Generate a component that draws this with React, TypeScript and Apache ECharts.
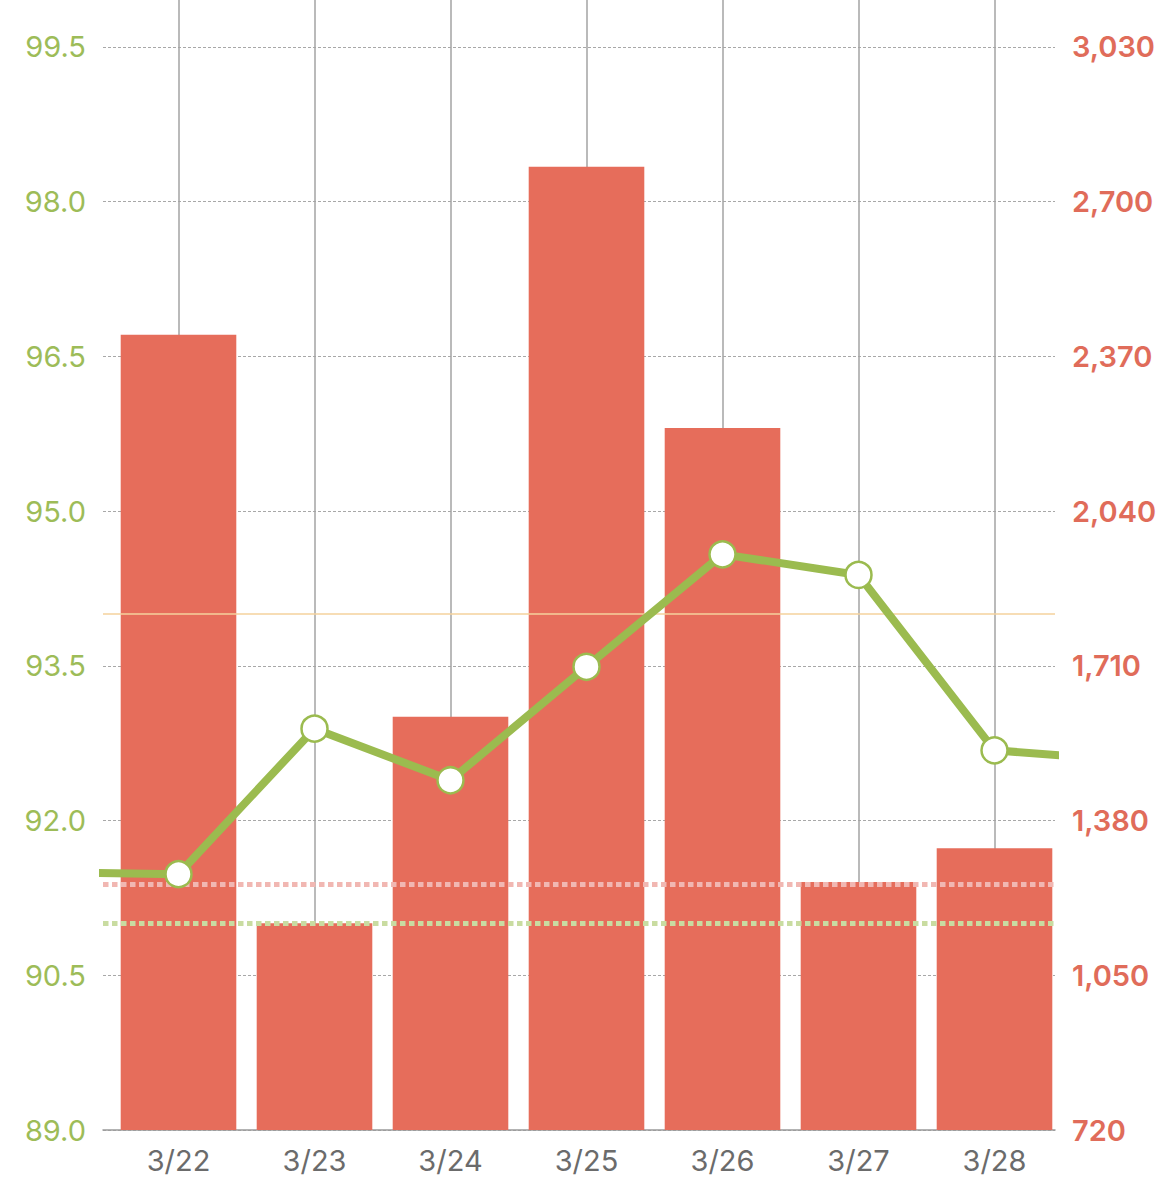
import React, { useEffect, useRef } from "react";
import * as echarts from "echarts";

const categories = ["3/22", "3/23", "3/24", "3/25", "3/26", "3/27", "3/28"];
const barValues = [2416, 1161, 1601, 2774, 2217, 1249, 1321];
const lineValues = [91.48, 92.89, 92.39, 93.49, 94.58, 94.38, 92.68];
const lineBefore = 91.5; // value for the day before (clipped at the left edge)
const lineAfter = 92.58; // value for the day after (clipped at the right edge)
const leftTicks = { min: 89, max: 101, interval: 1.5 };
const rightTicks = { min: 720, max: 3360, interval: 330 };
const pinkTarget = 1245;
const greenTarget = 91.0;
const yellowRef = 94.0;

const FONT = "Inter, 'Noto Sans', sans-serif";

// layout (pixels)
const PLOT_LEFT = 103;
const PLOT_RIGHT = 114;
const SHIFT = 7.5; // category band is scrolled slightly to the right of the plot frame
const CAT_W = 136;
const X_MIN = -(CAT_W / 2 + SHIFT) / CAT_W;
const X_MAX = X_MIN + categories.length;

export default function App() {
  const ref = useRef<HTMLDivElement>(null);
  useEffect(() => {
    document.body.style.margin = "0";
    const chart = echarts.init(ref.current!, null, { renderer: "svg" });
    const lineData: any[] = [
      { value: [-1, lineBefore], symbol: "none" },
      ...lineValues.map((v, i) => ({ value: [i, v] })),
      { value: [categories.length, lineAfter], symbol: "none" },
    ];
    const hiddenMark = { symbol: ["none", "none"], label: { show: false }, silent: true };
    chart.setOption({
      animation: false,
      backgroundColor: "#ffffff",
      grid: [
        { left: PLOT_LEFT, right: PLOT_RIGHT, top: 0, bottom: 66 },
        { left: PLOT_LEFT + SHIFT, right: PLOT_RIGHT - SHIFT, top: 0, bottom: 66 },
      ],
      xAxis: [
        {
          gridIndex: 0,
          type: "value",
          min: X_MIN,
          max: X_MAX,
          axisLine: { show: true, lineStyle: { color: "#9a9a9a", width: 1.5 } },
          axisTick: { show: false },
          axisLabel: { show: false },
          splitLine: { show: false },
        },
        {
          gridIndex: 1,
          type: "category",
          data: categories,
          boundaryGap: true,
          axisLine: { show: false },
          axisTick: { show: false },
          axisLabel: { color: "#6b6b6b", fontSize: 29, fontFamily: FONT, margin: 16 },
          splitLine: { show: false },
        },
      ],
      yAxis: [
        {
          gridIndex: 0,
          type: "value",
          position: "left",
          min: leftTicks.min,
          max: leftTicks.max,
          interval: leftTicks.interval,
          axisLine: { show: false },
          axisTick: { show: false },
          axisLabel: {
            color: "#9dbc58",
            fontSize: 29,
            fontFamily: FONT,
            margin: 17,
            showMaxLabel: false,
            formatter: (v: number) => v.toFixed(1),
          },
          splitLine: { show: true, lineStyle: { color: "#a8a8a8", width: 1.2, type: [3, 2] } },
        },
        {
          gridIndex: 0,
          type: "value",
          position: "right",
          min: rightTicks.min,
          max: rightTicks.max,
          interval: rightTicks.interval,
          axisLine: { show: false },
          axisTick: { show: false },
          axisLabel: {
            color: "#e06c5a",
            fontSize: 29,
            fontWeight: 600,
            fontFamily: FONT,
            margin: 17,
            showMaxLabel: false,
            formatter: (v: number) => v.toLocaleString("en-US"),
          },
          splitLine: { show: false },
        },
        {
          gridIndex: 1,
          type: "value",
          min: rightTicks.min,
          max: rightTicks.max,
          interval: rightTicks.interval,
          show: false,
        },
      ],
      series: [
        {
          type: "bar",
          xAxisIndex: 1,
          yAxisIndex: 2,
          data: barValues,
          barCategoryGap: "15%",
          itemStyle: { color: "#e66d5b" },
          z: 2,
          markLine: {
            ...hiddenMark,
            z: 1,
            lineStyle: { color: "#a3a3a3", width: 1.5, type: "solid" },
            data: categories.map((c) => ({ xAxis: c })),
          },
        },
        {
          type: "line",
          xAxisIndex: 0,
          yAxisIndex: 1,
          data: [],
          markLine: {
            ...hiddenMark,
            z: 5,
            lineStyle: { color: "#f1b7b2", width: 5, type: [5.5, 3.5] },
            data: [{ yAxis: pinkTarget }],
          },
        },
        {
          type: "line",
          xAxisIndex: 0,
          yAxisIndex: 0,
          data: lineData,
          clip: true,
          z: 10,
          symbol: "circle",
          symbolSize: 26,
          lineStyle: { color: "#9bbb4f", width: 8 },
          itemStyle: { color: "#ffffff", borderColor: "#9bbb4f", borderWidth: 2.5 },
          markLine: {
            ...hiddenMark,
            z: 5,
            data: [
              { yAxis: yellowRef, lineStyle: { color: "#f4d29c", width: 1.5, type: "solid" } },
              { yAxis: greenTarget, lineStyle: { color: "#c9dca1", width: 5, type: [5.5, 3.5] } },
            ],
          },
        },
      ],
    });
    return () => chart.dispose();
  }, []);
  return (
    <div
      ref={ref}
      style={{ position: "absolute", left: 0, top: -108, width: 1169, height: 1304 }}
    />
  );
}
